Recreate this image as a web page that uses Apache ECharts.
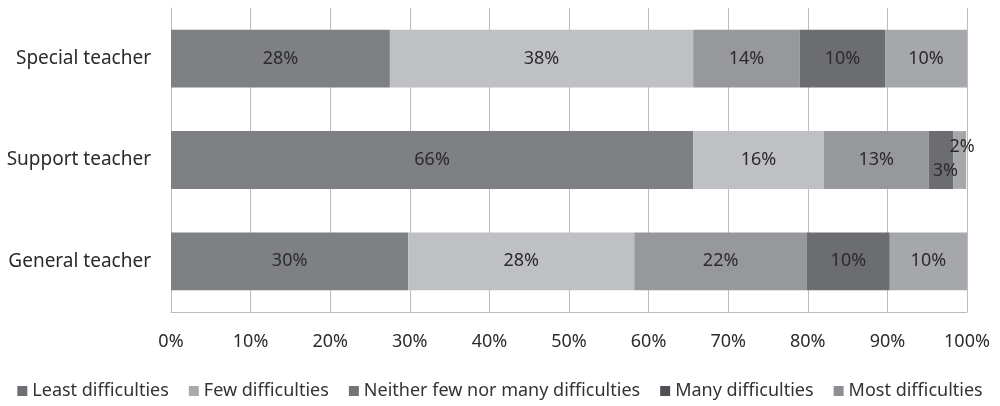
<!DOCTYPE html>
<html>
<head>
<meta charset="utf-8">
<script src="https://cdn.jsdelivr.net/npm/echarts@6/dist/echarts.min.js"></script>
<style>
  html, body { margin: 0; padding: 0; background: #fff; }
  #main { width: 1000px; height: 406px; }
</style>
</head>
<body>
<div id="main"></div>
<script>
const teachers = ['General teacher', 'Support teacher', 'Special teacher'];
const seriesNames = ['Least difficulties', 'Few difficulties', 'Neither few nor many difficulties', 'Many difficulties', 'Most difficulties'];
// segment lengths (General, Support, Special)
const least   = [29.8, 65.6, 27.5];
const few     = [28.4, 16.4, 38.1];
const neither = [21.7, 13.2, 13.4];
const many    = [10.4, 3.1, 10.7];
const most    = [9.7, 1.6, 10.3];
// printed labels
const leastLbl   = ['30%', '66%', '28%'];
const fewLbl     = ['28%', '16%', '38%'];
const neitherLbl = ['22%', '13%', '14%'];
const manyLbl    = ['10%', '3%', '10%'];
const mostLbl    = ['10%', '2%', '10%'];
const xTicks = [0, 10, 20, 30, 40, 50, 60, 70, 80, 90, 100];

const barColors = ['#7f8084', '#bfc0c4', '#97989c', '#6c6d71', '#a6a7ab'];
const legendColors = ['#6d6e72', '#a9aaae', '#737478', '#505155', '#8e8f93'];
const font = '"Noto Sans", "Open Sans", sans-serif';

const values = [least, few, neither, many, most];
const labels = [leastLbl, fewLbl, neitherLbl, manyLbl, mostLbl];

const chart = echarts.init(document.getElementById('main'));

const series = seriesNames.map((name, i) => ({
    name: name,
    type: 'bar',
    stack: 'total',
    barWidth: '57%',
    itemStyle: { color: barColors[i] },
    label: {
        show: true,
        position: 'inside',
        color: '#2b2b2b',
        fontSize: 18,
        fontFamily: font,
        formatter: p => labels[i][p.dataIndex]
    },
    data: values[i].map((v, j) => {
        const d = { value: v };
        // the two thin segments of the support teacher bar
        if (i === 3 && j === 1) {
            d.label = { position: [4, 40], align: 'left', verticalAlign: 'middle' };
        }
        if (i === 4 && j === 1) {
            d.label = { position: [-4, 16], align: 'left', verticalAlign: 'middle' };
        }
        return d;
    })
}));

const option = {
    backgroundColor: '#ffffff',
    animation: false,
    grid: { left: 171, right: 33, top: 8, bottom: 94 },
    legend: {
        data: seriesNames.map((n, i) => ({ name: n, itemStyle: { color: legendColors[i] } })),
        bottom: 1,
        left: 'center',
        icon: 'rect',
        itemWidth: 10,
        itemHeight: 10,
        itemGap: 20,
        textStyle: { color: '#333', fontSize: 18, fontFamily: font }
    },
    xAxis: {
        type: 'value',
        min: 0,
        max: 100,
        interval: 10,
        axisLabel: {
            color: '#2b2b2b',
            fontSize: 18,
            fontFamily: font,
            margin: 21,
            formatter: v => xTicks.indexOf(v) >= 0 ? v + '%' : ''
        },
        axisLine: { show: true, lineStyle: { color: '#bdbdbd' } },
        axisTick: { show: false },
        splitLine: { show: true, lineStyle: { color: '#bdbdbd', width: 1 } }
    },
    yAxis: {
        type: 'category',
        data: teachers,
        axisLabel: { color: '#2b2b2b', fontSize: 19, fontFamily: font, margin: 20 },
        axisLine: { show: true, lineStyle: { color: '#bdbdbd' } },
        axisTick: { show: false }
    },
    series: series
};

chart.setOption(option);
window.addEventListener('resize', () => chart.resize());
</script>
</body>
</html>
